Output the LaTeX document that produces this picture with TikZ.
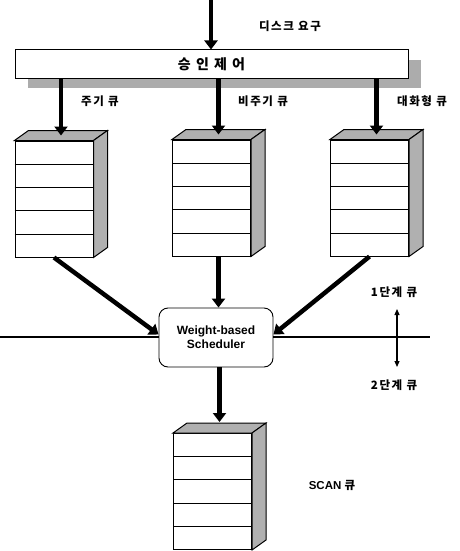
\documentclass[tikz,border=0pt]{standalone}
\usepackage{fontspec}
\setmainfont{Liberation Sans}
\newfontfamily\kr{Noto Sans CJK KR}[LetterSpace=14]
\usetikzlibrary{arrows.meta,positioning,calc,shadows}

\begin{document}
\begin{tikzpicture}[x=1pt,y=-1pt,>=Triangle]
\tikzset{qfront/.style={draw,line width=1pt,fill=white,minimum width=78pt,minimum height=116pt,inner sep=0pt},
  qshade/.style={draw,line width=1pt,fill=gray!62},
  bigarrow/.style={-{Triangle[length=9pt,width=13pt]},line width=4.5pt},
  kor/.style={font=\kr\bfseries\fontsize{11.5}{13}\selectfont}}
\useasboundingbox (0,0) rectangle (460,551);
% admission control bar
\node[draw,line width=1pt,fill=white,minimum width=393pt,minimum height=28pt,inner sep=0pt,
  drop shadow={shadow xshift=13pt,shadow yshift=-10pt,fill=gray!65,opacity=1},
  font=\kr\bfseries\fontsize{14}{15}\selectfont] (adm) at (211.5,64) {승 인 제 어};
\coordinate (src) at (211,0);
\draw[bigarrow] (src) -- (adm.north -| src);
\node[kor] (req) at (290,26) {디스크 요구};
% queues
\foreach \q/\x/\y in {q1/54/199,q2/211.5/198,q3/369.5/198,q4/212.5/491.5} {
  \node[qfront] (\q) at (\x,\y) {};
  \filldraw[qshade] (\q.north west) -- ([shift={(14,-10)}]\q.north west) -- ([shift={(14,-10)}]\q.north east) -- (\q.north east) -- cycle;
  \filldraw[qshade] (\q.north east) -- ([shift={(14,-10)}]\q.north east) -- ([shift={(14,-10)}]\q.south east) -- (\q.south east) -- cycle;
  \foreach \k in {1,...,4}
    \draw[line width=0.8pt] ($(\q.north west)!\k/5!(\q.south west)$) -- ($(\q.north east)!\k/5!(\q.south east)$);
  \coordinate (\q t) at ([shift={(7,-5)}]\q.north);
}
\draw[bigarrow] (adm.south -| q1t) -- (q1t);
\draw[bigarrow] (adm.south -| q2t) -- (q2t);
\draw[bigarrow] (adm.south -| q3t) -- (q3t);
\node[kor] (lq1) at (100,101) {주기 큐};
\node[kor] (lq2) at (263,101) {비주기 큐};
\node[kor] (lq3) at (422,101) {대화형 큐};
% scheduler
\node[draw,rounded corners=9pt,line width=0.9pt,fill=white,minimum width=114pt,minimum height=59pt,align=center,
  font=\bfseries\fontsize{12}{14}\selectfont] (sch) at (216,337.5) {Weight-based\\Scheduler};
\coordinate (hl) at (0,337);
\coordinate (hr) at (430,337);
\draw[line width=1.3pt] (hl) -- (sch.west |- hl);
\draw[line width=1.3pt] (sch.east |- hl) -- (hr);
\draw[bigarrow] (q1.south) -- ([yshift=3pt]sch.west);
\draw[bigarrow] (q3.south) -- ([yshift=3pt]sch.east);
\draw[bigarrow] (q2.south -| q2t) -- (sch.north -| q2t);
\draw[bigarrow] (sch.south -| q4t) -- ([yshift=6pt]q4t);
% levels
\coordinate (ua) at (397,309);
\coordinate (da) at (397,367);
\draw[{Triangle[length=6pt,width=5pt]}-{Triangle[length=6pt,width=5pt]},line width=1.2pt] (ua) -- (da);
\node[kor] (lv1) at (394,292) {1단계 큐};
\node[kor] (lv2) at (394,385) {2단계 큐};
\node[font=\bfseries\fontsize{11.5}{13}\selectfont] (scan) at (332,485) {SCAN {\kr 큐}};
\end{tikzpicture}
\end{document}
